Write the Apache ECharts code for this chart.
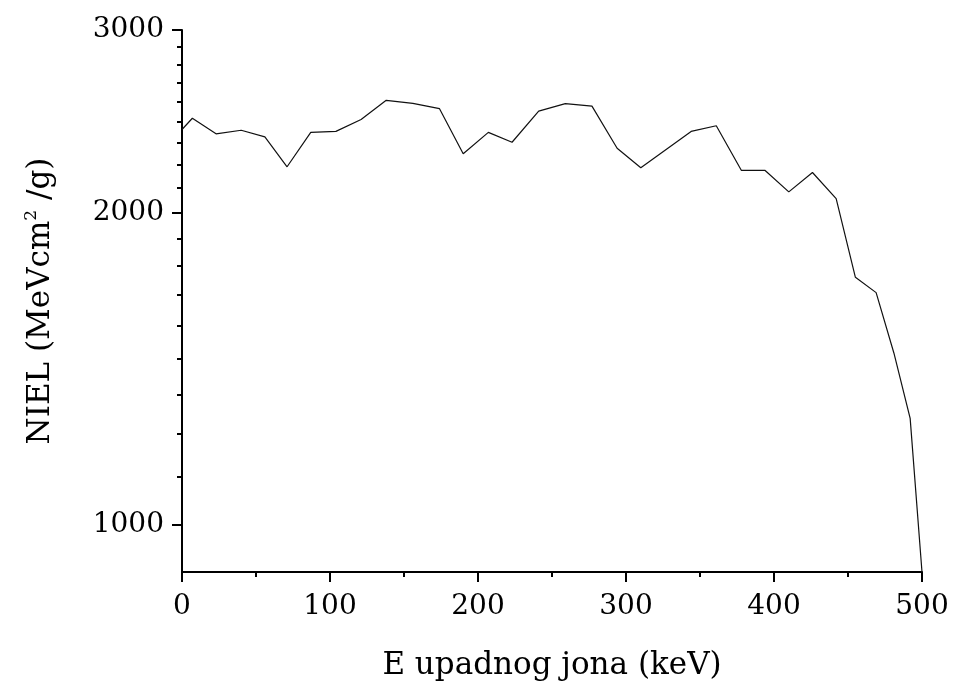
<!DOCTYPE html>
<html>
<head>
<meta charset="utf-8">
<script src="https://cdn.jsdelivr.net/npm/echarts@6/dist/echarts.min.js"></script>
<style>
html,body{margin:0;padding:0;background:#fff;}
#chart{width:954px;height:691px;}
</style>
</head>
<body>
<div id="chart"></div>
<script>
// Data
const energy = [0, 7, 23, 40, 56, 71, 87, 104, 121, 138, 156, 174, 190, 207, 223, 241, 259, 277, 294, 310, 344, 361, 378, 394, 410, 426, 442, 455, 469, 481, 492, 500];
const niel = [2405, 2466, 2382, 2401, 2366, 2214, 2390, 2395, 2459, 2566, 2549, 2519, 2279, 2390, 2338, 2505, 2547, 2533, 2307, 2209, 2395, 2425, 2196, 2196, 2094, 2186, 2063, 1732, 1674, 1464, 1266, 900];
const yMajorTicks = [1000, 2000, 3000];
const yMinorPerMajor = 8;
const yMin = 900, yMax = 3000;
const xMin = 0, xMax = 500, xStep = 100;

const FONT = 'DejaVu Serif';
const lg = v => Math.log10(v);

const yMinorTicks = [];
for (let i = 0; i < yMajorTicks.length - 1; i++) {
  const a = yMajorTicks[i], b = yMajorTicks[i + 1];
  for (let k = 1; k <= yMinorPerMajor; k++) yMinorTicks.push(a + (b - a) * k / (yMinorPerMajor + 1));
}

const chart = echarts.init(document.getElementById('chart'), null, {renderer: 'canvas'});
chart.setOption({
  animation: false,
  backgroundColor: '#fff',
  grid: {left: 182, right: 32, top: 30, bottom: 119, containLabel: false},
  xAxis: {
    type: 'value', min: xMin, max: xMax, interval: xStep,
    name: 'E upadnog jona (keV)', nameLocation: 'middle', nameGap: 78,
    nameTextStyle: {fontFamily: FONT, fontSize: 31, color: '#000'},
    axisLine: {show: true, onZero: false, lineStyle: {color: '#000', width: 2}},
    axisTick: {show: true, inside: false, length: 10, lineStyle: {color: '#000', width: 2}},
    minorTick: {show: true, splitNumber: 2, length: 5, lineStyle: {color: '#000', width: 2}},
    axisLabel: {fontFamily: FONT, fontSize: 28, color: '#000', margin: 21},
    splitLine: {show: false}, minorSplitLine: {show: false}
  },
  yAxis: [{
    type: 'value', min: lg(yMin), max: lg(yMax),
    name: 'NIEL (MeVcm{sup|2} /g)', nameLocation: 'middle', nameGap: 124,
    nameTextStyle: {fontFamily: FONT, fontSize: 31, color: '#000',
      rich: {sup: {fontFamily: FONT, fontSize: 17, color: '#000', verticalAlign: 'top', padding: [0, 0, 18, 0]}}},
    axisLine: {show: true, onZero: false, lineStyle: {color: '#000', width: 2}},
    axisTick: {show: true, inside: false, length: 10, customValues: yMajorTicks.map(lg), lineStyle: {color: '#000', width: 2}},
    axisLabel: {fontFamily: FONT, fontSize: 28, color: '#000', margin: 18,
      customValues: yMajorTicks.map(lg),
      formatter: v => String(Math.round(Math.pow(10, v)))},
    splitLine: {show: false}
  }, {
    type: 'value', min: lg(yMin), max: lg(yMax), position: 'left', offset: 0,
    axisLine: {show: false},
    axisTick: {show: true, inside: false, length: 5, customValues: yMinorTicks.map(lg), lineStyle: {color: '#000', width: 2}},
    axisLabel: {show: false},
    splitLine: {show: false}
  }],
  series: [{
    type: 'line',
    yAxisIndex: 0,
    data: energy.map((e, i) => [e, lg(niel[i])]),
    showSymbol: false,
    symbol: 'none',
    lineStyle: {color: '#111', width: 1.2},
    clip: true
  }]
});
</script>
</body>
</html>
